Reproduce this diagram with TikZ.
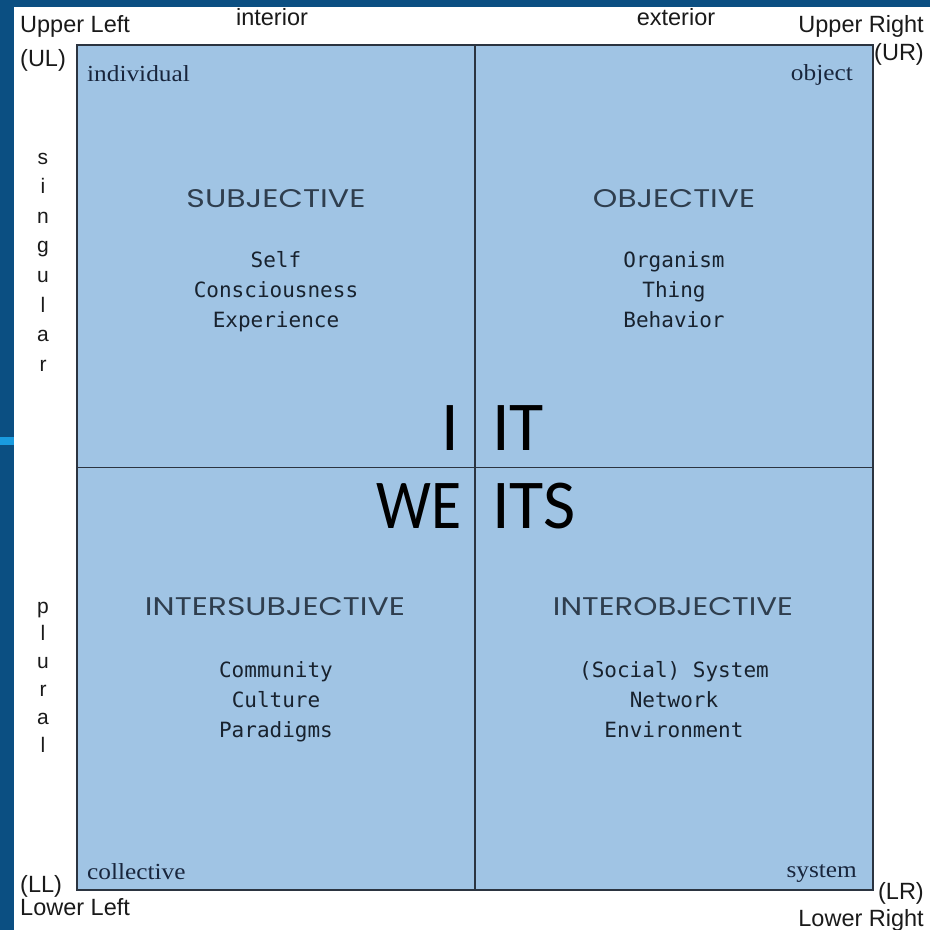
\documentclass[tikz,border=0pt]{standalone}
\usepackage{fontspec}
\newfontfamily\arialf{Liberation Sans}
\newfontfamily\seriff[FakeStretch=1.1]{Liberation Serif}
\newfontfamily\monof{DejaVu Sans Mono}
\newfontfamily\headf{Poppins}
\newfontfamily\bigf{Carlito}
\definecolor{bgblue}{HTML}{0B4F82}
\definecolor{stripcyan}{HTML}{1A9BDF}
\definecolor{quadfill}{HTML}{A0C4E4}
\definecolor{framecol}{HTML}{2B3440}
\definecolor{monocol}{HTML}{18222E}
\definecolor{headcol}{HTML}{2F3E4E}
\definecolor{serifcol}{HTML}{18253C}
\definecolor{labcol}{HTML}{1A1A1A}
\tikzset{
  corner/.style={inner sep=0pt, text=labcol, font=\arialf\fontsize{23.5}{26}\selectfont},
  vert/.style={inner sep=0pt, text=labcol, font=\arialf\fontsize{21}{24}\selectfont, anchor=base},
  seriflab/.style={inner sep=0pt, text=serifcol, font=\seriff\fontsize{23}{26}\selectfont},
  monotext/.style={inner sep=0pt, text=monocol, font=\monof\fontsize{21}{30}\selectfont, anchor=base},
  headtext/.style={inner sep=0pt, text=headcol, font=\headf, anchor=base},
  bigtext/.style={inner sep=0pt, text=black, font=\bigf\fontsize{70}{80}\selectfont},
  framestyle/.style={draw=framecol, line width=1.4pt},
}
\begin{document}
\begin{tikzpicture}[x=1pt,y=-1pt]
\useasboundingbox (0,0) rectangle (930,930);
\fill[bgblue] (0,0) rectangle (930,930);
\fill[white] (14,7) rectangle (930,930);
\fill[stripcyan] (0,437) rectangle (13.5,445);
% quadrant square
\node[framestyle, fill=quadfill, minimum width=796pt, minimum height=845pt, inner sep=0pt] (sq) at (475,467.5) {};
\draw[framestyle] (sq.north) -- (sq.south);
\draw[framestyle] (sq.west) -- (sq.east);
% corner labels
\node[corner, anchor=base west] (ul1) at (20,32) {Upper Left};
\node[corner, anchor=base west] (ul2) at (20,66) {(UL)};
\node[corner, anchor=base] (interior) at (272,25) {interior};
\node[corner, anchor=base] (exterior) at (676,25) {exterior};
\node[corner, anchor=base east] (ur1) at (924,32) {Upper Right};
\node[corner, anchor=base east] (ur2) at (924,60) {(UR)};
\node[corner, anchor=base west] (ll2) at (20,892) {(LL)};
\node[corner, anchor=base west] (ll1) at (20,915) {Lower Left};
\node[corner, anchor=base east] (lr2) at (924,899) {(LR)};
\node[corner, anchor=base east] (lr1) at (924,926) {Lower Right};
% vertical words
\foreach \ch [count=\k from 0] in {s,i,n,g,u,l,a,r}
  \node[vert] (sing\k) at (43,164+29.6*\k) {\ch};
\foreach \ch [count=\k from 0] in {p,l,u,r,a,l}
  \node[vert] (plur\k) at (43,613+27.8*\k) {\ch};
% serif corner words
\node[seriflab, anchor=base west] (individual) at (87,81) {individual};
\node[seriflab, anchor=base east] (object) at (853,80) {object};
\node[seriflab, anchor=base west] (collective) at (87,879) {collective};
\node[seriflab, anchor=base east] (system) at (857,877) {system};
% headings
\node[headtext] (hsub) at (276,207) {\resizebox{179pt}{18pt}{SUBJECTIVE}};
\node[headtext] (hobj) at (674,207) {\resizebox{162pt}{18pt}{OBJECTIVE}};
\node[headtext] (hisub) at (275,615) {\resizebox{260pt}{18pt}{INTERSUBJECTIVE}};
\node[headtext] (hiobj) at (673,615) {\resizebox{240pt}{18pt}{INTEROBJECTIVE}};
% mono lists
\node[monotext] (self) at (276,267) {Self};
\node[monotext] (consc) at (276,297) {Consciousness};
\node[monotext] (exper) at (276,327) {Experience};
\node[monotext] (organism) at (674,267) {Organism};
\node[monotext] (thing) at (674,297) {Thing};
\node[monotext] (behavior) at (674,327) {Behavior};
\node[monotext] (community) at (276,677) {Community};
\node[monotext] (culture) at (276,707) {Culture};
\node[monotext] (paradigms) at (276,737) {Paradigms};
\node[monotext] (socsys) at (674,677) {(Social) System};
\node[monotext] (network) at (674,707) {Network};
\node[monotext] (environment) at (674,737) {Environment};
% big pronouns
\node[bigtext, anchor=base east] (bigI) at (459,450) {I};
\node[bigtext, anchor=base west] (bigIT) at (492,450) {IT};
\node[bigtext, anchor=base east] (bigWE) at (462,528) {\scalebox{0.88}[1]{WE}};
\node[bigtext, anchor=base west] (bigITS) at (492,528) {ITS};
\end{tikzpicture}
\end{document}
